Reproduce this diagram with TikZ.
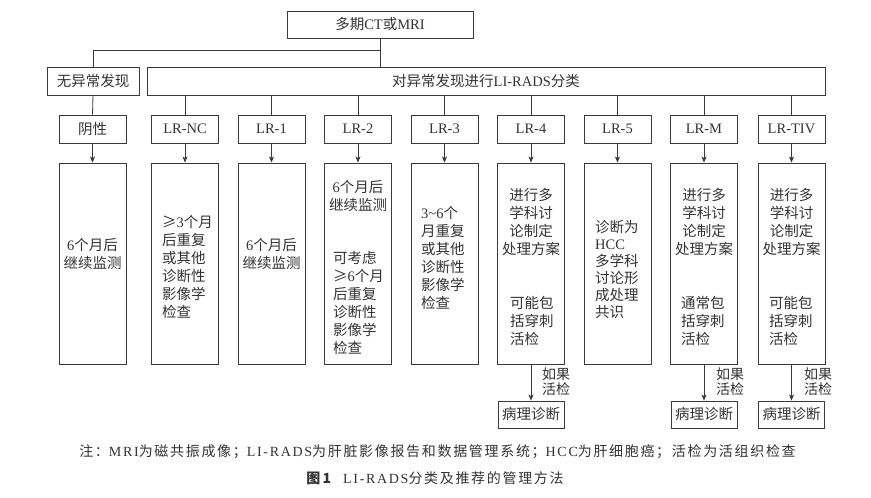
\documentclass[tikz,border=0pt]{standalone}
\usepackage{fontspec}
\setmainfont{Noto Sans CJK SC}
\newfontfamily\timesf{Liberation Serif}
\newfontfamily\capzh{Noto Sans CJK SC}[LetterSpace=12]
\newfontfamily\capla{Liberation Serif}[LetterSpace=12]
\newcommand\T[1]{{\timesf #1}}
\newcommand\CL[1]{{\capla #1}}
\usetikzlibrary{arrows.meta}
\definecolor{linec}{HTML}{3A3A3A}
\definecolor{txtc}{HTML}{333333}
\begin{document}
\begin{tikzpicture}[x=1pt,y=-1pt,
  box/.style={draw=linec, line width=0.9pt, inner sep=0pt, text=txtc,
    font=\fontsize{14.5}{18}\selectfont},
  labbox/.style={box, minimum width=67pt, minimum height=28pt},
  tallbox/.style={box, minimum width=67pt, minimum height=201pt},
  pathbox/.style={box, minimum width=66pt, minimum height=27pt},
  txt/.style={inner sep=0pt, text=txtc, font=\fontsize{14.5}{18}\selectfont},
  small/.style={inner sep=0pt, text=txtc, font=\fontsize{14}{15}\selectfont, align=left, anchor=west},
  conn/.style={draw=linec, line width=0.8pt},
  arr/.style={conn, -{Stealth[length=6pt,width=5pt,inset=1.5pt]}}
]
\fill[white] (0,0) rectangle (871,498);
\useasboundingbox (0,0) rectangle (871,498);

% top level
\node[box, minimum width=186pt, minimum height=27pt] (top) at (380,24.5) {多期\T{CT}或\T{MRI}};
\node[box, minimum width=92pt, minimum height=28pt] (none) at (93,81) {无异常发现};
\node[box, minimum width=678pt, minimum height=28pt] (big) at (486,81) {对异常发现进行\T{LI-RADS}分类};

\coordinate (j) at (380,50);
\draw[conn] (top.south) -- (top.south |- big.north);
\draw[conn] (j) -| (none.north);

% second row
\node[labbox] (neg) at (92.5,129) {阴性};
\node[labbox] (nc) at (185,129) {\T{LR-NC}};
\node[labbox] (l1) at (271.5,129) {\T{LR-1}};
\node[labbox] (l2) at (358,129) {\T{LR-2}};
\node[labbox] (l3) at (444.5,129) {\T{LR-3}};
\node[labbox] (l4) at (531,129) {\T{LR-4}};
\node[labbox] (l5) at (617.5,129) {\T{LR-5}};
\node[labbox] (lm) at (704,129) {\T{LR-M}};
\node[labbox] (ltiv) at (791.5,129) {\T{LR-TIV}};

\draw[conn] (none.south) -- (neg.north);
\foreach \n in {nc,l1,l2,l3,l4,l5,lm,ltiv}
  \draw[conn] (big.south -| \n.north) -- (\n.north);

% tall boxes
\node[tallbox] (tneg) at (92.5,263.5) {};
\node[tallbox] (tnc) at (185,263.5) {};
\node[tallbox] (t1) at (271.5,263.5) {};
\node[tallbox] (t2) at (358,263.5) {};
\node[tallbox] (t3) at (444.5,263.5) {};
\node[tallbox] (t4) at (531,263.5) {};
\node[tallbox] (t5) at (617.5,263.5) {};
\node[tallbox] (tm) at (704,263.5) {};
\node[tallbox] (ttiv) at (791.5,263.5) {};

\draw[arr] (neg.south) -- (tneg.north);
\draw[arr] (nc.south) -- (tnc.north);
\draw[arr] (l1.south) -- (t1.north);
\draw[arr] (l2.south) -- (t2.north);
\draw[arr] (l3.south) -- (t3.north);
\draw[arr] (l4.south) -- (t4.north);
\draw[arr] (l5.south) -- (t5.north);
\draw[arr] (lm.south) -- (tm.north);
\draw[arr] (ltiv.south) -- (ttiv.north);

% texts in tall boxes
\node[txt, align=center] (xneg) at (92.5,254) {\T{6}个月后\\继续监测};
\node[txt, align=left, anchor=west] (xnc) at (162,267) {≥\T{3}个月\\后重复\\或其他\\诊断性\\影像学\\检查};
\node[txt, align=center] (x1) at (271.5,254) {\T{6}个月后\\继续监测};
\node[txt, align=center] (x2a) at (358,196) {\T{6}个月后\\继续监测};
\node[txt, align=left, anchor=west] (x2b) at (333,302.5) {可考虑\\≥\T{6}个月\\后重复\\诊断性\\影像学\\检查};
\node[txt, align=left, anchor=west] (x3) at (421,258) {\T{3\textasciitilde6}个\\月重复\\或其他\\诊断性\\影像学\\检查};
\node[txt, align=center] (x4a) at (531,222) {进行多\\学科讨\\论制定\\处理方案};
\node[txt, align=left, anchor=west] (x4b) at (510,320.5) {可能包\\括穿刺\\活检};
\node[txt, align=left, anchor=west, font=\fontsize{14.5}{17}\selectfont] (x5) at (595,269.5) {诊断为\\\T{HCC}\\多学科\\讨论形\\成处理\\共识};
\node[txt, align=center] (xma) at (704,222) {进行多\\学科讨\\论制定\\处理方案};
\node[txt, align=left, anchor=west] (xmb) at (681,320.5) {通常包\\括穿刺\\活检};
\node[txt, align=center] (xtiva) at (791.5,222) {进行多\\学科讨\\论制定\\处理方案};
\node[txt, align=left, anchor=west] (xtivb) at (769,320.5) {可能包\\括穿刺\\活检};

% pathology boxes
\node[pathbox] (p4) at (531,414.5) {病理诊断};
\node[pathbox] (pm) at (704,414.5) {病理诊断};
\node[pathbox] (ptiv) at (791.5,414.5) {病理诊断};
\draw[arr] (t4.south) -- (p4.north);
\draw[arr] (tm.south) -- (pm.north);
\draw[arr] (ttiv.south) -- (ptiv.north);
\node[small] (b4) at (542,381.5) {如果\\活检};
\node[small] (bm) at (716,381.5) {如果\\活检};
\node[small] (btiv) at (804,381.5) {如果\\活检};

% captions
\node[inner sep=0pt, text=txtc, font=\fontsize{14}{16}\selectfont\capzh] (note) at (437.5,452)
  {注：\CL{MRI}为磁共振成像；\CL{LI-RADS}为肝脏影像报告和数据管理系统；\CL{HCC}为肝细胞癌；活检为活组织检查};
\node[inner sep=0pt, text=txtc, font=\fontsize{14}{16}\selectfont\capzh] (cap) at (435,478)
  {{\bfseries 图\,1}\hspace{12pt}\CL{LI-RADS}分类及推荐的管理方法};
\end{tikzpicture}
\end{document}
